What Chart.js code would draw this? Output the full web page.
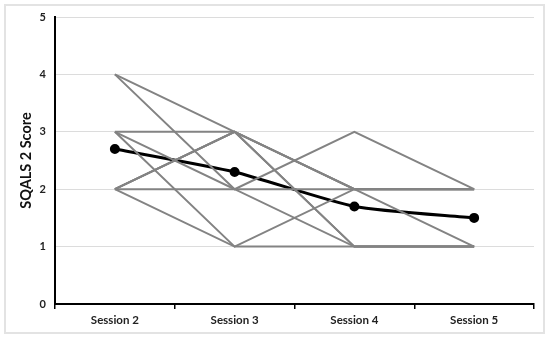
<!DOCTYPE html>
<html>
<head>
<meta charset="utf-8">
<script src="https://cdn.jsdelivr.net/npm/chart.js@4/dist/chart.umd.min.js"></script>
<style>
  html, body { margin: 0; padding: 0; background: #fff; }
  #wrap { position: relative; width: 550px; height: 338px; }
  #frame { position: absolute; left: 4px; top: 4px; width: 537px; height: 326px; border: 2px solid #e3e3e3; }
  canvas { position: absolute; left: 0; top: 0; }
</style>
</head>
<body>
<div id="wrap">
  <div id="frame"></div>
  <canvas id="myChart" width="550" height="338"></canvas>
</div>
<script>
// Sessions on the x axis
const sessions = ['Session 2', 'Session 3', 'Session 4', 'Session 5'];

// Individual participant scores (gray lines)
const p1 = [4, 3, 2, 1];
const p2 = [4, 2, 3, 2];
const p3 = [3, 3, 1, 1];
const p4 = [3, 2, 2, 2];
const p5 = [3, 1, 2, 2];
const p6 = [2, 3, 2, 2];
const p7 = [2, 3, 2, 2];
const p8 = [2, 3, 1, 1];
const p9 = [2, 2, 1, 1];
const p10 = [2, 1, 1, 1];

// Mean score (black line)
const meanScore = [2.7, 2.3, 1.7, 1.5];

// y axis range
const yMin = 0;
const yMax = 5;

const participants = [p1, p2, p3, p4, p5, p6, p7, p8, p9, p10];

const datasets = participants.map((vals, i) => ({
    label: 'P' + (i + 1),
    data: vals,
    borderColor: '#838383',
    borderWidth: 2,
    pointRadius: 0,
    tension: 0,
    fill: false
}));

datasets.push({
    label: 'Mean',
    data: meanScore,
    borderColor: '#000',
    backgroundColor: '#000',
    borderWidth: 3,
    pointRadius: 3.5,
    pointBackgroundColor: '#000',
    pointBorderColor: '#000',
    tension: 0.2,
    fill: false
});

const fontFam = 'Lato, "Open Sans", sans-serif';

const ctx = document.getElementById('myChart').getContext('2d');

const myChart = new Chart(ctx, {
    type: 'line',
    data: {
        labels: sessions,
        datasets: datasets
    },
    options: {
        responsive: false,
        animation: false,
        layout: {
            padding: { left: 0, top: 17, right: 16, bottom: 0 }
        },
        scales: {
            x: {
                offset: true,
                afterFit: s => { s.height = 34; },
                border: { color: '#000', width: 2 },
                grid: {
                    offset: true,
                    drawOnChartArea: false,
                    drawTicks: true,
                    tickLength: 5,
                    color: '#000',
                    lineWidth: 1.5
                },
                ticks: {
                    color: '#222',
                    padding: 4,
                    font: { family: fontFam, size: 11.5, weight: 'bold' }
                }
            },
            y: {
                min: yMin,
                max: yMax,
                afterFit: s => { s.width = 55; },
                border: { color: '#000', width: 2 },
                grid: {
                    color: '#dcdcdc',
                    lineWidth: 1,
                    drawTicks: false
                },
                ticks: {
                    stepSize: 1,
                    color: '#222',
                    padding: 9,
                    font: { family: fontFam, size: 11, weight: 'bold' }
                },
                title: {
                    display: true,
                    text: 'SQALS 2 Score',
                    color: '#111',
                    padding: { top: 18, bottom: 0 },
                    font: { family: fontFam, size: 14.5, weight: 'bold' }
                }
            }
        },
        plugins: {
            legend: { display: false },
            tooltip: { enabled: false }
        }
    }
});
</script>
</body>
</html>
